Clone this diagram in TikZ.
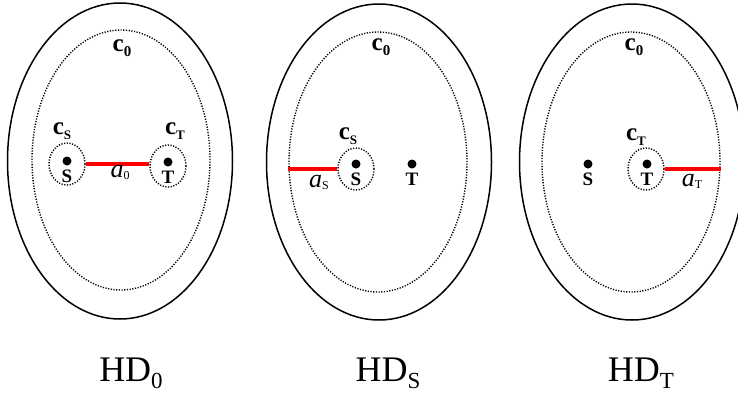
\documentclass[tikz,border=0pt]{standalone}
\usepackage{fontspec}
\setmainfont{Liberation Serif}
\usepackage{tikz}
\usetikzlibrary{positioning,shapes.geometric}

\newcommand{\cname}[2][15]{\textbf{c}\raisebox{-5pt}{\fontsize{#1}{#1}\selectfont\bfseries #2}}
\newcommand{\aname}[1]{\textit{a}\raisebox{-2pt}{\fontsize{12}{12}\selectfont #1}}
\newcommand{\hdname}[1]{HD\raisebox{-7pt}{\fontsize{23}{23}\selectfont #1}}

\begin{document}
\begin{tikzpicture}[x=1pt, y=-1pt,
    outer/.style={ellipse, draw, line width=1.5pt, inner sep=0pt,
                  minimum width=225pt, minimum height=316pt},
    inner/.style={ellipse, draw, line width=1.4pt, dash pattern=on 1.2pt off 1.5pt,
                  inner sep=0pt, minimum width=178pt, minimum height=260pt},
    loop/.style={ellipse, draw, line width=1.4pt, dash pattern=on 1.2pt off 1.5pt,
                 inner sep=0pt, minimum width=36pt, minimum height=42pt},
    dot/.style={circle, fill=black, inner sep=0pt, minimum size=9pt},
    pt/.style={inner sep=0pt, font=\fontsize{19}{19}\selectfont\bfseries},
    clab/.style={inner sep=0pt, font=\fontsize{25}{25}\selectfont},
    alab/.style={inner sep=0pt, font=\fontsize{26}{26}\selectfont},
    hd/.style={anchor=base, inner sep=0pt, font=\fontsize{36}{36}\selectfont},
    arc/.style={red, line width=3.5pt}
]
    \useasboundingbox (0,0) rectangle (738,394);
    \clip (0,0) rectangle (738,394);

    % HD_0
    \node[outer] (o0) at (120,161) {};
    \node[inner] (i0) at (121,160) {};
    \node[clab] (c0) at (122,48) {\cname{0}};
    \node[loop] (cs0) at (67,164) {};
    \node[loop] (ct0) at (168,166) {};
    \node[dot] (s0) at (67,161) {};
    \node[dot] (t0) at (168,162) {};
    \node[pt, below=4pt of s0] (ls0) {S};
    \node[pt, below=4pt of t0] (lt0) {T};
    \node[clab] (ccs0) at (62,131) {\cname[13]{S}};
    \node[clab] (cct0) at (175,131) {\cname[13]{T}};
    \draw[arc] (cs0.east) -- (cs0.east -| ct0.west);
    \node[alab] (a0) at (120,172) {\aname{0}};
    \node[hd] (hd0) at (131,381) {\hdname{0}};

    % HD_S
    \node[outer] (oS) at (379,162) {};
    \node[inner] (iS) at (378,162) {};
    \node[clab] (cS) at (381,47) {\cname{0}};
    \node[loop] (csS) at (356,169) {};
    \node[dot] (sS) at (356,164) {};
    \node[dot] (tS) at (412,164) {};
    \node[pt, below=4pt of sS] (lsS) {S};
    \node[pt, below=4pt of tS] (ltS) {T};
    \node[clab] (ccsS) at (348,136) {\cname[13]{S}};
    \draw[arc] (csS.west) -- (csS.west -| iS.west);
    \node[alab] (aS) at (319,182) {\aname{S}};
    \node[hd] (hdS) at (388,381) {\hdname{S}};

    % HD_T
    \node[outer] (oT) at (632,162) {};
    \node[inner] (iT) at (631,162) {};
    \node[clab] (cT) at (634,47) {\cname{0}};
    \node[loop] (ctT) at (646,169) {};
    \node[dot] (sT) at (588,164) {};
    \node[dot] (tT) at (647,164) {};
    \node[pt, below=4pt of sT] (lsT) {S};
    \node[pt, below=4pt of tT] (ltT) {T};
    \node[clab] (cctT) at (636,137) {\cname[13]{T}};
    \draw[arc] (ctT.east) -- (ctT.east -| iT.east);
    \node[alab] (aT) at (692,181) {\aname{T}};
    \node[hd] (hdT) at (641,381) {\hdname{T}};
\end{tikzpicture}
\end{document}
